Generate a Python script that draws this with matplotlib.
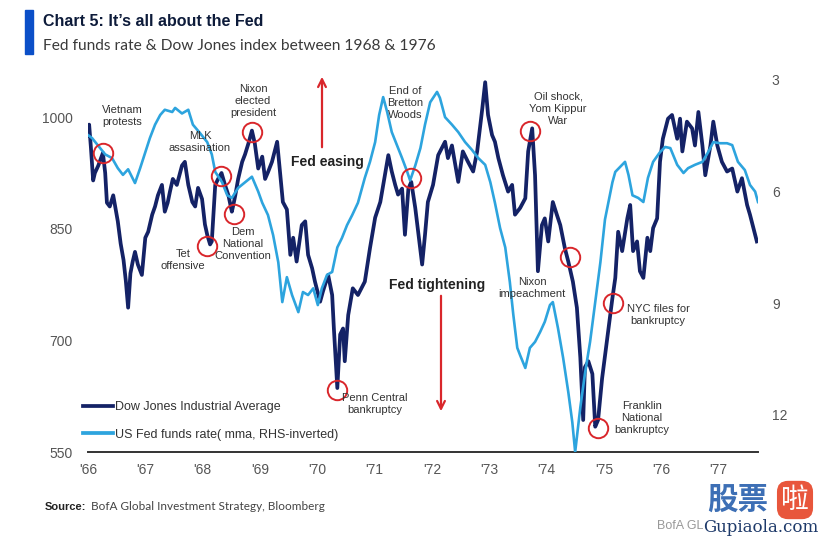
import matplotlib.pyplot as plt

# Dow Jones Industrial Average (decimal year, index)
dow_t = [1966.00, 1966.02, 1966.05, 1966.09, 1966.12, 1966.18, 1966.26, 1966.30, 1966.33,
         1966.38, 1966.44, 1966.52, 1966.57, 1966.62, 1966.66, 1966.70, 1966.74, 1966.78,
         1966.82, 1966.87, 1966.94, 1967.00, 1967.05, 1967.12, 1967.17, 1967.22, 1967.29,
         1967.34, 1967.39, 1967.43, 1967.48, 1967.55, 1967.64, 1967.69, 1967.75, 1967.82,
         1967.87, 1967.92, 1967.99, 1968.04, 1968.08, 1968.13, 1968.16, 1968.22, 1968.27,
         1968.33, 1968.39, 1968.45, 1968.51, 1968.53, 1968.57, 1968.62, 1968.69, 1968.74,
         1968.80, 1968.86, 1968.91, 1968.97, 1969.04, 1969.09, 1969.14, 1969.21, 1969.30,
         1969.35, 1969.40, 1969.47, 1969.53, 1969.58, 1969.64, 1969.73, 1969.79, 1969.84,
         1969.91, 1969.96, 1970.05, 1970.10, 1970.19, 1970.26, 1970.29, 1970.35, 1970.40,
         1970.45, 1970.48, 1970.54, 1970.62, 1970.71, 1970.83, 1970.92, 1971.01, 1971.10,
         1971.18, 1971.24, 1971.30, 1971.36, 1971.41, 1971.48, 1971.53, 1971.59, 1971.64,
         1971.71, 1971.76, 1971.83, 1971.88, 1971.93, 1972.02, 1972.11, 1972.23, 1972.28,
         1972.35, 1972.46, 1972.54, 1972.63, 1972.72, 1972.79, 1972.88, 1972.93, 1972.98,
         1973.05, 1973.10, 1973.16, 1973.24, 1973.33, 1973.40, 1973.45, 1973.54, 1973.63,
         1973.68, 1973.75, 1973.80, 1973.85, 1973.92, 1973.97, 1974.03, 1974.11, 1974.18,
         1974.24, 1974.32, 1974.38, 1974.46, 1974.53, 1974.59, 1974.64, 1974.67, 1974.73,
         1974.80, 1974.85, 1974.90, 1974.97, 1975.06, 1975.15, 1975.20, 1975.25, 1975.32,
         1975.41, 1975.46, 1975.51, 1975.58, 1975.63, 1975.69, 1975.76, 1975.81, 1975.86,
         1975.93, 1975.98, 1976.03, 1976.12, 1976.19, 1976.28, 1976.33, 1976.37, 1976.45,
         1976.54, 1976.59, 1976.65, 1976.72, 1976.77, 1976.86, 1976.91, 1976.98, 1977.06,
         1977.15, 1977.24, 1977.33, 1977.41, 1977.50, 1977.55, 1977.61, 1977.67]
dow_v = [975, 990, 960, 915, 925, 935, 952, 925, 885,
         880, 895, 860, 830, 808, 780, 744, 790, 806,
         819, 802, 788, 838, 846, 869, 880, 895, 909,
         873, 885, 900, 917, 909, 935, 940, 909, 886,
         880, 905, 890, 856, 842, 829, 833, 909, 917,
         925, 909, 895, 873, 880, 895, 917, 940, 950,
         965, 982, 965, 931, 947, 917, 926, 940, 967,
         926, 886, 876, 815, 838, 806, 855, 860, 815,
         797, 779, 752, 766, 788, 761, 716, 636, 708,
         716, 672, 734, 770, 761, 779, 824, 865, 886,
         922, 949, 927, 909, 896, 904, 842, 904, 913,
         878, 846, 802, 842, 886, 909, 949, 967, 945,
         962, 913, 954, 940, 927, 954, 1012, 1047, 1003,
         976, 967, 945, 922, 900, 909, 869, 878, 891,
         954, 985, 922, 793, 855, 864, 833, 886, 869,
         855, 824, 806, 779, 744, 677, 593, 664, 672,
         655, 584, 593, 649, 703, 757, 784, 846, 820,
         864, 882, 820, 833, 793, 784, 838, 820, 851,
         864, 940, 971, 998, 1003, 971, 998, 954, 994,
         985, 962, 1007, 962, 922, 962, 994, 962, 940,
         927, 931, 900, 918, 882, 869, 851, 833]

# US Fed funds rate (mma) (decimal year, %)
ff_t = [1966.00, 1966.07, 1966.17, 1966.30, 1966.42, 1966.52, 1966.61, 1966.70, 1966.82,
        1966.91, 1967.00, 1967.08, 1967.17, 1967.26, 1967.34, 1967.47, 1967.52, 1967.64,
        1967.75, 1967.83, 1967.95, 1968.08, 1968.16, 1968.22, 1968.34, 1968.43, 1968.51,
        1968.62, 1968.74, 1968.86, 1968.97, 1969.04, 1969.14, 1969.23, 1969.32, 1969.39,
        1969.47, 1969.56, 1969.67, 1969.75, 1969.84, 1969.93, 1970.01, 1970.08, 1970.17,
        1970.26, 1970.35, 1970.43, 1970.52, 1970.61, 1970.71, 1970.83, 1970.92, 1971.01,
        1971.08, 1971.15, 1971.22, 1971.30, 1971.39, 1971.48, 1971.57, 1971.62, 1971.71,
        1971.80, 1971.88, 1971.97, 1972.09, 1972.14, 1972.23, 1972.35, 1972.46, 1972.58,
        1972.70, 1972.81, 1972.93, 1973.02, 1973.10, 1973.19, 1973.28, 1973.36, 1973.42,
        1973.49, 1973.54, 1973.63, 1973.71, 1973.80, 1973.89, 1973.97, 1974.06, 1974.11,
        1974.20, 1974.29, 1974.38, 1974.45, 1974.50, 1974.59, 1974.67, 1974.76, 1974.85,
        1974.94, 1975.02, 1975.15, 1975.20, 1975.32, 1975.37, 1975.43, 1975.50, 1975.60,
        1975.69, 1975.77, 1975.86, 1975.98, 1976.07, 1976.16, 1976.28, 1976.39, 1976.47,
        1976.59, 1976.72, 1976.82, 1976.91, 1977.03, 1977.15, 1977.24, 1977.34, 1977.46,
        1977.55, 1977.64, 1977.69]
ff_v = [4.48, 4.56, 4.75, 5.00, 5.10, 5.37, 5.55, 5.40, 5.77,
        5.37, 4.94, 4.56, 4.20, 3.94, 3.80, 3.86, 3.75, 3.90,
        3.80, 4.20, 4.42, 4.67, 5.00, 5.47, 5.75, 6.10, 6.17,
        5.90, 5.75, 5.60, 6.00, 6.30, 6.63, 7.17, 7.90, 8.97,
        8.30, 8.78, 9.24, 8.70, 8.78, 8.60, 9.05, 8.60, 8.24,
        8.16, 7.50, 7.25, 6.90, 6.63, 6.30, 5.63, 5.20, 4.67,
        3.94, 3.46, 3.86, 4.40, 4.75, 5.10, 5.47, 5.70, 5.30,
        4.83, 4.20, 3.60, 3.32, 3.48, 4.00, 4.20, 4.40, 4.67,
        4.88, 5.10, 5.28, 5.75, 6.30, 6.98, 7.50, 8.43, 9.30,
        10.20, 10.40, 10.74, 10.20, 10.04, 9.77, 9.50, 9.05, 8.97,
        9.67, 10.47, 11.39, 12.20, 13.00, 11.80, 10.90, 10.04, 8.97,
        7.90, 6.75, 5.75, 5.47, 5.28, 5.20, 5.55, 6.10, 6.17,
        6.28, 5.63, 5.20, 4.94, 4.80, 4.83, 5.28, 5.50, 5.37,
        5.28, 5.20, 4.94, 4.67, 4.70, 4.70, 4.75, 5.20, 5.42,
        5.82, 6.00, 6.28]

years = list(range(1966, 1978))
year_labels = ["'" + str(y)[2:] for y in years]
dow_ticks = [550, 700, 850, 1000]
ff_ticks = [3, 6, 9, 12]

# events: (decimal year, Dow level)
event_t = [1966.26, 1968.08, 1968.32, 1968.55, 1968.86, 1970.35, 1971.64,
           1973.71, 1974.41, 1974.90, 1975.16]
event_v = [952, 827, 921, 870, 980, 633, 918, 981, 812, 582, 750]

W, H = 822, 539
def px(x, y):
    return x / W, 1 - y / H

SANS = ['Liberation Sans', 'DejaVu Sans']
plt.rcParams['font.family'] = SANS

navy = '#142266'
light = '#2da4de'
red = '#d9262b'

fig = plt.figure(figsize=(W / 100, H / 100), dpi=100)
ax = fig.add_axes([88 / W, 1 - 452 / H, 670 / W, 372 / H])
ax2 = ax.twinx()

ax.plot(dow_t, dow_v, color=navy, lw=2.7, solid_joinstyle='round')
ax2.plot(ff_t, ff_v, color=light, lw=1.9, solid_joinstyle='round')
ax2.plot(event_t, event_v, 'o', transform=ax.transData, mfc='none', mec=red,
         mew=1.4, ms=14)

ax.set_xlim(1966, 1977.69)
ax.set_ylim(550, 1050)
ax2.set_ylim(13, 3)

ax.set_xticks(years)
ax.set_xticklabels(year_labels)
ax.set_yticks(dow_ticks)
ax2.set_yticks(ff_ticks)
ax.tick_params(axis='both', length=0, labelsize=10, colors='#555555')
ax.tick_params(axis='y', pad=11)
ax.tick_params(axis='x', pad=8)
ax2.tick_params(axis='y', length=0, labelsize=10, colors='#555555', pad=10)

for s in ['top', 'left', 'right']:
    ax.spines[s].set_visible(False)
for s in ax2.spines.values():
    s.set_visible(False)
ax.spines['bottom'].set_color('#333333')
ax.spines['bottom'].set_linewidth(1.4)

# legend
ax.plot([], [], color=navy, lw=2.7, label='Dow Jones Industrial Average')
ax.plot([], [], color=light, lw=2.7, label='US Fed funds rate( mma, RHS-inverted)')
ax.legend(loc='lower left', bbox_to_anchor=(-0.025, 0.0), frameon=False, fontsize=9,
          handlelength=2.4, handletextpad=0.2, labelspacing=1.25, labelcolor='#333333')

# annotations
notes = [
    ('Vietnam\nprotests', 122, 116),
    ('MLK\nassasination', 200, 142),
    ('Nixon\nelected\npresident', 253, 101),
    ('Tet\noffensive', 183, 260),
    ('Dem\nNational\nConvention', 243, 244),
    ('End of\nBretton\nWoods', 405, 103),
    ('Oil shock,\nYom Kippur\nWar', 558, 109),
    ('Nixon\nimpeachment', 532, 288),
    ('Penn Central\nbankruptcy', 375, 404),
    ('NYC files for\nbankruptcy', 658, 315),
    ('Franklin\nNational\nbankruptcy', 642, 418),
]
for txt, x, y in notes:
    fig.text(*px(x, y), txt, ha='center', va='center', fontsize=8, color='#333333',
             linespacing=1.3)

fig.text(*px(327, 162), 'Fed easing', ha='center', va='center', fontsize=10,
         fontweight='bold', color='#222222')
fig.text(*px(437, 285), 'Fed tightening', ha='center', va='center', fontsize=10,
         fontweight='bold', color='#222222')
fig.add_artist(plt.Annotation('', xy=px(322, 74), xytext=px(322, 150),
                              xycoords='figure fraction', textcoords='figure fraction',
                              arrowprops=dict(arrowstyle='->', color=red, lw=1.6,
                                              mutation_scale=14)))
fig.add_artist(plt.Annotation('', xy=px(441, 414), xytext=px(441, 293),
                              xycoords='figure fraction', textcoords='figure fraction',
                              arrowprops=dict(arrowstyle='->', color=red, lw=1.6,
                                              mutation_scale=14)))

# title block
fig.patches.append(plt.Rectangle(px(25, 54), 8 / W, 44 / H, transform=fig.transFigure,
                                 color='#0b4fc8', figure=fig))
fig.text(*px(43, 22), 'Chart 5: It\u2019s all about the Fed', ha='left', va='center',
         fontsize=11.5, fontweight='bold', color='#0d1b3a')
fig.text(*px(43, 46), 'Fed funds rate & Dow Jones index between 1968 & 1976', ha='left',
         va='center', fontsize=11.2, color='#3a3a3a', family=['Lato', 'DejaVu Sans'])

fig.text(*px(45, 507), 'Source:', ha='left', va='center', fontsize=8, fontweight='bold',
         color='#222222')
fig.text(*px(91, 507), 'BofA Global Investment Strategy, Bloomberg', ha='left',
         va='center', fontsize=8.5, color='#444444', family=['Lato', 'DejaVu Sans'])

# watermark
fig.text(*px(657, 526), 'BofA GL', ha='left', va='center', fontsize=9, color='#999999')
fig.text(*px(738, 500), '股票', ha='center', va='center', fontsize=22, fontweight='bold',
         color='#3d6fb5', family=['Noto Sans CJK SC', 'DejaVu Sans'])
fig.text(*px(795, 500), '啦', ha='center', va='center', fontsize=20, color='white',
         family=['Noto Sans CJK SC', 'DejaVu Sans'],
         bbox=dict(boxstyle='round,pad=0.15,rounding_size=0.4', fc='#e8563c', ec='none'))
fig.text(*px(761, 528), 'Gupiaola.com', ha='center', va='center', fontsize=12,
         color='#1e3a6a', family=['DejaVu Serif'])

fig.savefig('out.png', dpi=100, facecolor='white')
